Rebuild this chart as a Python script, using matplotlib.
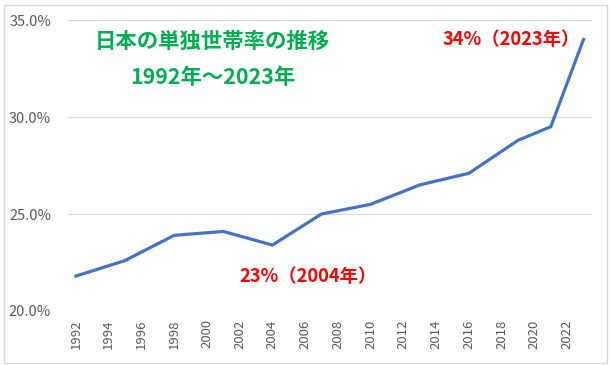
import matplotlib.pyplot as plt
from matplotlib.patches import Rectangle
from matplotlib.ticker import FuncFormatter

plt.rcParams['font.family'] = ['Noto Sans CJK JP', 'DejaVu Sans']

# 単独世帯率 (%)
years = [1992, 1995, 1998, 2001, 2004, 2007, 2010, 2013, 2016, 2019, 2021, 2023]
rate = [21.8, 22.6, 23.9, 24.1, 23.4, 25.0, 25.5, 26.5, 27.1, 28.8, 29.5, 34.0]
tick_years = list(range(1992, 2023, 2))
title_lines = ['日本の単独世帯率の推移', '1992年～2023年']
notes = ['34%（2023年）', '23%（2004年）']

fig = plt.figure(figsize=(6.1, 3.65), dpi=100)
ax = fig.add_axes([0.111, 0.148, 0.859, 0.797])

# outer frame like an Excel chart area
fig.patches.append(Rectangle((0.007, 0.006), 0.988, 0.981, transform=fig.transFigure,
                             fill=False, edgecolor='#D9D9D9', linewidth=1))

ax.plot(years, rate, color='#4472C4', linewidth=2.3, solid_joinstyle='round')

ax.set_xlim(1991.5, 2023.5)
ax.set_ylim(20, 35)
ax.set_yticks([20, 25, 30, 35])
ax.yaxis.set_major_formatter(FuncFormatter(lambda v, p: f'{v:.1f}%'))
ax.set_xticks(tick_years)
ax.set_xticklabels([str(y) for y in tick_years], rotation=90)
ax.tick_params(axis='both', length=0, colors='#595959')
ax.tick_params(axis='y', pad=12, labelsize=10.5)
ax.tick_params(axis='x', pad=6, labelsize=9.5)
ax.grid(axis='y', color='#D9D9D9', linewidth=0.8)
ax.set_axisbelow(True)
for s in ax.spines.values():
    s.set_visible(False)

# titles and notes
ax.text(2000.35, 33.9, title_lines[0], color='#00B050', fontsize=15.4, fontweight='bold',
        ha='center', va='center')
ax.text(2000.35, 32.05, title_lines[1], color='#00B050', fontsize=15.4, fontweight='bold',
        ha='center', va='center')
narrow = ['Liberation Sans Narrow', 'Noto Sans CJK JP']
ax.text(2018.6, 34.0, notes[0], color='#FF0000', fontsize=13.2, fontweight='bold',
        ha='center', va='center', family=narrow)
ax.text(2006.2, 21.8, notes[1], color='#FF0000', fontsize=13.2, fontweight='bold',
        ha='center', va='center', family=narrow)

fig.savefig('out.png', dpi=100)
